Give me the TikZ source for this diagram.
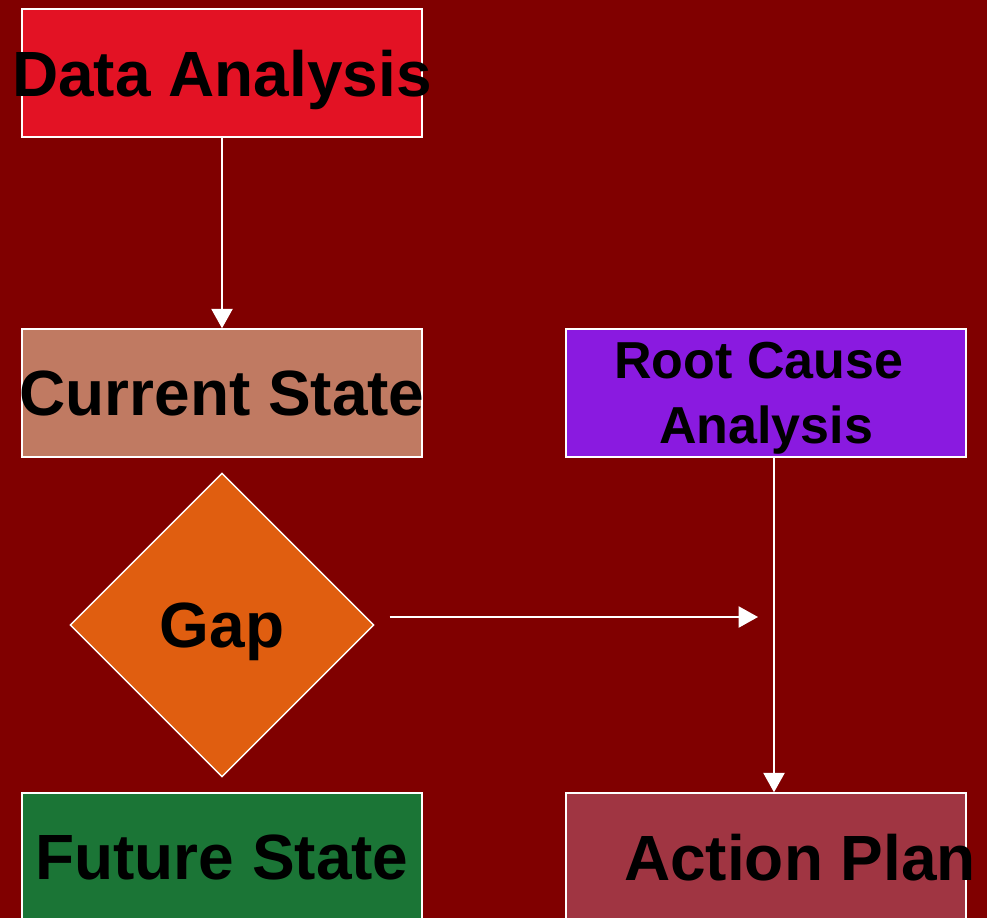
\documentclass[tikz,border=0pt]{standalone}
\usepackage{fontspec}
\setmainfont{Liberation Sans}
\usepackage{tikz}
\usetikzlibrary{arrows.meta,shapes,positioning}
\usepackage{xcolor}
\definecolor{bgmaroon}{RGB}{128,0,0}
\definecolor{dared}{RGB}{227,18,36}
\definecolor{csbrown}{RGB}{192,122,98}
\definecolor{rcpurple}{RGB}{138,26,224}
\definecolor{gaporange}{RGB}{224,94,16}
\definecolor{fsgreen}{RGB}{27,117,54}
\definecolor{aprose}{RGB}{160,53,66}
\tikzstyle{flow} = [line width=1pt,draw=white,-{Triangle[length=11pt,width=12pt]}]
\tikzstyle{stepbox} = [rectangle, minimum width=8cm, minimum height=2.56cm, inner sep=0pt, text depth=0pt, draw=white, line width=0.8pt, text=black, font=\fontsize{36.4}{44}\selectfont\bfseries]

\begin{document}
\begin{tikzpicture}
% Background
\fill[bgmaroon] (0,0) rectangle (19.74,-18.36);
\useasboundingbox (0,0) rectangle (19.74,-18.36);

% Boxes
\node[stepbox, fill=dared] at (4.44,-1.46) (data) {\makebox[0pt]{Data Analysis}};
\node[stepbox, fill=csbrown] at (4.44,-7.86) (current) {\makebox[0pt]{Current State}};
\node[stepbox, fill=rcpurple, align=center, font=\fontsize{29.6}{37}\selectfont\bfseries] at (15.32,-7.86) (root) {Root Cause\hspace*{0.28em}\\Analysis};
\node[diamond, minimum width=6.08cm, minimum height=6.08cm, inner sep=0pt, text depth=0pt, draw=white, line width=0.8pt, fill=gaporange, font=\fontsize{36.4}{44}\selectfont\bfseries] at (4.44,-12.5) (gap) {Gap};
\node[stepbox, fill=fsgreen] at (4.44,-17.14) (future) {\makebox[0pt]{Future State}};
\node[stepbox, fill=aprose] at (15.32,-17.14) (action) {\makebox[0pt]{\hspace*{1.36cm}Action Plan}};

% Arrows
\coordinate (gapout) at ([xshift=0.3cm,yshift=0.16cm]gap.east);
\coordinate (gapend) at (15.16,-12.34);
\draw[flow] (data.south) -- (current.north);
\draw[flow] (gapout) -- (gapend);
\draw[flow] ([xshift=0.16cm]root.south) -- ([xshift=0.16cm]action.north);
\end{tikzpicture}
\end{document}
